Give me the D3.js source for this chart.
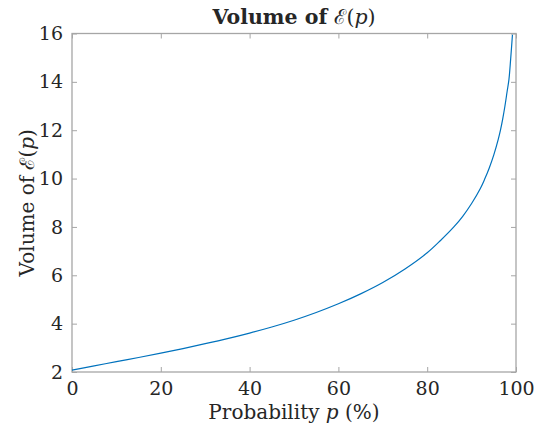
<!DOCTYPE html>
<html>
<head>
<meta charset="utf-8">
<script src="https://cdn.jsdelivr.net/npm/d3@7"></script>
<style>
  body { margin: 0; background: #fff; }
  text { font-family: "DejaVu Serif", serif; fill: #262626; }
</style>
</head>
<body>
<script>
// probability (%) and volume values
var probability = [0, 5, 10, 15, 20, 25, 30, 35, 40, 45, 50, 55, 60, 65, 70, 75, 80, 83, 86, 88, 90, 92, 93, 94, 95, 96, 96.5, 97, 97.5, 98, 98.4, 98.8, 99.2];
var volume =      [2.08, 2.25, 2.43, 2.6, 2.78, 2.97, 3.17, 3.38, 3.61, 3.86, 4.14, 4.46, 4.82, 5.23, 5.70, 6.26, 6.93, 7.44, 8.0, 8.44, 8.97, 9.6, 10.0, 10.45, 10.98, 11.62, 12.0, 12.46, 12.99, 13.6, 14.08, 14.95, 15.95];
var xTicks = [0, 20, 40, 60, 80, 100];
var yTicks = [2, 4, 6, 8, 10, 12, 14, 16];

var width = 537
var height = 432
var margin = {left: 72, right: 21, top: 33.5, bottom: 60}

var svg = d3.select("body")
    .append("svg")
    .attr("width", width)
    .attr("height", height);

var x = d3.scaleLinear().domain([0, 100]).range([margin.left, width - margin.right])
var y = d3.scaleLinear().domain([2, 16]).range([height - margin.bottom, margin.top])

var axisColor = "#a6a6a6"
var tickLen = 5

// box
svg.append("rect")
    .attr("x", x(0)).attr("y", y(16))
    .attr("width", x(100) - x(0)).attr("height", y(2) - y(16))
    .attr("fill", "none").attr("stroke", axisColor).attr("stroke-width", 1.3)

// ticks (inward, on all four sides)
function drawAxis(axis, tx, ty) {
    var g = svg.append("g").attr("transform", "translate(" + tx + "," + ty + ")").call(axis)
    g.select(".domain").remove()
    g.selectAll(".tick line").attr("stroke", axisColor)
    return g
}

var gx = drawAxis(d3.axisBottom(x).tickValues(xTicks).tickSizeInner(-tickLen).tickPadding(10), 0, y(2))
gx.selectAll("text").attr("font-size", 19).attr("fill", "#262626")
    .attr("font-family", "Liberation Serif")
drawAxis(d3.axisTop(x).tickValues(xTicks).tickSizeInner(-tickLen).tickFormat(""), 0, y(16))

var gy = drawAxis(d3.axisLeft(y).tickValues(yTicks).tickSizeInner(-tickLen).tickPadding(9), x(0), 0)
gy.selectAll("text").attr("font-size", 19).attr("fill", "#262626")
    .attr("font-family", "Liberation Serif")
drawAxis(d3.axisRight(y).tickValues(yTicks).tickSizeInner(-tickLen).tickFormat(""), x(100), 0)

// the curve
var line = d3.line()
    .x(function(d, i) { return x(probability[i]) })
    .y(function(d) { return y(d) })
    .curve(d3.curveCatmullRom.alpha(0.5))

svg.append("path")
    .attr("d", line(volume))
    .attr("fill", "none")
    .attr("stroke", "#0072BD")
    .attr("stroke-width", 1.2)

// title
var title = svg.append("text")
    .attr("x", (x(0) + x(100)) / 2)
    .attr("y", 24)
    .attr("text-anchor", "middle")
    .attr("font-size", 20.5)
title.append("tspan").attr("font-weight", "bold").text("Volume of ")
title.append("tspan").text("ℰ(")
title.append("tspan").attr("font-style", "italic").text("p")
title.append("tspan").text(")")

// x label
var xl = svg.append("text")
    .attr("x", (x(0) + x(100)) / 2)
    .attr("y", 419)
    .attr("text-anchor", "middle")
    .attr("font-size", 20)
xl.append("tspan").text("Probability ")
xl.append("tspan").attr("font-style", "italic").text("p")
xl.append("tspan").text(" (%)")

// y label
var yl = svg.append("text")
    .attr("transform", "translate(34," + ((y(2) + y(16)) / 2) + ") rotate(-90)")
    .attr("text-anchor", "middle")
    .attr("font-size", 20)
yl.append("tspan").text("Volume of ℰ(")
yl.append("tspan").attr("font-style", "italic").text("p")
yl.append("tspan").text(")")
</script>
</body>
</html>
